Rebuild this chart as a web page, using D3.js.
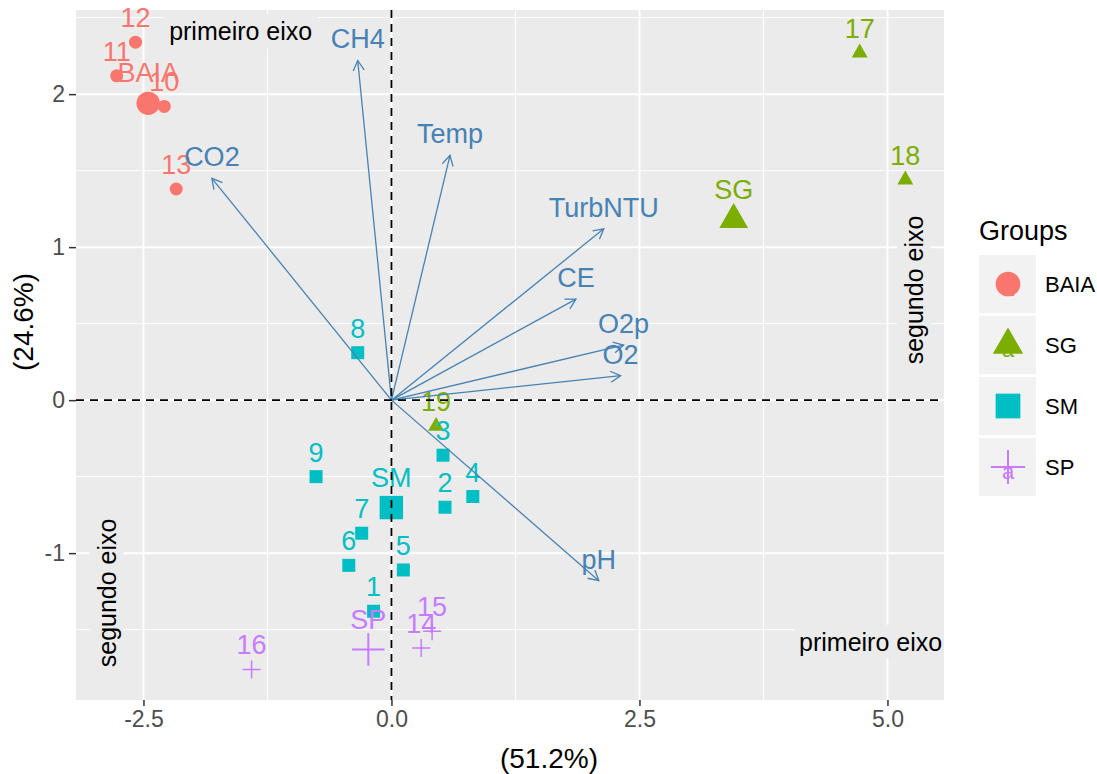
<!DOCTYPE html>
<html>
<head>
<meta charset="utf-8">
<script src="https://cdn.jsdelivr.net/npm/d3@7"></script>
<style>
    body { margin: 0; background: #ffffff; }
    text { font-family: 'Liberation Sans', Arial, sans-serif; }
</style>
</head>
<body>
<div id="chart"></div>
<script>
// Groups and colors
var groups = ['BAIA', 'SG', 'SM', 'SP'];
var groupColors = ['#F8766D', '#7CAE00', '#00BFC4', '#C77CFF'];

// Individuals (scores on dim 1 / dim 2)
var indNames = ['1', '2', '3', '4', '5', '6', '7', '8', '9', '10', '11', '12', '13', '14', '15', '16', '17', '18', '19'];
var indGroups = ['SM', 'SM', 'SM', 'SM', 'SM', 'SM', 'SM', 'SM', 'SM', 'BAIA', 'BAIA', 'BAIA', 'BAIA', 'SP', 'SP', 'SP', 'SG', 'SG', 'SG'];
var indDim1 = [-0.18, 0.54, 0.52, 0.82, 0.12, -0.43, -0.3, -0.34, -0.76, -2.29, -2.77, -2.58, -2.17, 0.3, 0.41, -1.41, 4.72, 5.18, 0.45];
var indDim2 = [-1.38, -0.7, -0.36, -0.63, -1.11, -1.08, -0.87, 0.31, -0.5, 1.92, 2.12, 2.34, 1.38, -1.62, -1.51, -1.76, 2.27, 1.44, -0.17];

// Variables (arrow tips)
var varNames = ['CH4', 'Temp', 'CO2', 'TurbNTU', 'CE', 'O2p', 'O2', 'pH'];
var varDim1 = [-0.34, 0.59, -1.81, 2.14, 1.86, 2.34, 2.31, 2.09];
var varDim2 = [2.22, 1.6, 1.45, 1.12, 0.66, 0.36, 0.16, -1.18];

// Axis ticks
var xTicks = [-2.5, 0, 2.5, 5];
var yTicks = [-1, 0, 1, 2];
var xMinor = [-1.25, 1.25, 3.75];
var yMinor = [-1.5, -0.5, 0.5, 1.5, 2.5];
var xTitle = '(51.2%)';
var yTitle = '(24.6%)';

// Annotations
var noteTexts = ['primeiro eixo', 'primeiro eixo', 'segundo eixo', 'segundo eixo'];
var noteDim1 = [-1.52, 4.83, 5.27, -2.87];
var noteDim2 = [2.41, -1.58, 0.72, -1.26];
var noteAngles = [0, 0, -90, -90];

// Margins
var margin = { top: 10, right: 153, bottom: 74, left: 76 },
    width = 1097 - margin.left - margin.right,
    height = 774 - margin.top - margin.bottom;

var arrowColor = '#4682B4';
var color = d3.scaleOrdinal().domain(groups).range(groupColors);

var x = d3.scaleLinear().domain([-3.18, 5.57]).range([0, width]);
var y = d3.scaleLinear().domain([-1.96, 2.55]).range([height, 0]);

// Shapes: circle, triangle, square, plus
function shapePath(group, k) {
    if (group === 'BAIA') {
        var r = 6.5 * k;
        return 'M' + (-r) + ',0A' + r + ',' + r + ' 0 1,0 ' + r + ',0A' + r + ',' + r + ' 0 1,0 ' + (-r) + ',0Z';
    }
    if (group === 'SG') {
        var a = 16 * k;
        return 'M0,' + (-a / Math.sqrt(3)) + 'L' + (a / 2) + ',' + (a / (2 * Math.sqrt(3))) +
            'L' + (-a / 2) + ',' + (a / (2 * Math.sqrt(3))) + 'Z';
    }
    if (group === 'SM') {
        var s = 6.5 * k;
        return 'M' + (-s) + ',' + (-s) + 'H' + s + 'V' + s + 'H' + (-s) + 'Z';
    }
    var h = 9 * k;
    return 'M' + (-h) + ',0H' + h + 'M0,' + (-h) + 'V' + h;
}
function drawShape(sel, k, sw) {
    sel.attr('d', function (d) { return shapePath(d.group, k); })
        .attr('fill', function (d) { return d.group === 'SP' ? 'none' : color(d.group); })
        .attr('stroke', function (d) { return d.group === 'SP' ? color(d.group) : 'none'; })
        .attr('stroke-width', sw);
}

var individuals = indNames.map(function (n, i) {
    return { name: n, group: indGroups[i], d1: indDim1[i], d2: indDim2[i] };
});
var centroids = groups.map(function (g) {
    var members = individuals.filter(function (d) { return d.group === g; });
    return {
        name: g, group: g,
        d1: d3.mean(members, function (d) { return d.d1; }),
        d2: d3.mean(members, function (d) { return d.d2; })
    };
});
var variables = varNames.map(function (n, i) {
    return { name: n, d1: varDim1[i], d2: varDim2[i] };
});

var svg = d3.select('#chart')
    .append('svg')
    .attr('width', width + margin.left + margin.right)
    .attr('height', height + margin.top + margin.bottom);

svg.append('defs').append('clipPath').attr('id', 'panel-clip')
    .append('rect').attr('width', width).attr('height', height);

svg.select('defs').append('marker')
    .attr('id', 'arrowhead')
    .attr('viewBox', '-12 -8 14 16')
    .attr('markerWidth', 14)
    .attr('markerHeight', 16)
    .attr('markerUnits', 'userSpaceOnUse')
    .attr('refX', 0)
    .attr('refY', 0)
    .attr('orient', 'auto')
    .append('path')
    .attr('d', 'M-10,-5.5L0,0L-10,5.5')
    .attr('fill', 'none')
    .attr('stroke', arrowColor)
    .attr('stroke-width', 1.3);

var chart = svg.append('g')
    .attr('transform', 'translate(' + margin.left + ',' + margin.top + ')');

// Panel background and grid
chart.append('rect').attr('width', width).attr('height', height).attr('fill', '#EBEBEB');

var grid = chart.append('g');
grid.selectAll('.xminor').data(xMinor).enter().append('line')
    .attr('x1', x).attr('x2', x).attr('y1', 0).attr('y2', height)
    .attr('stroke', '#ffffff').attr('stroke-width', 1);
grid.selectAll('.yminor').data(yMinor).enter().append('line')
    .attr('y1', y).attr('y2', y).attr('x1', 0).attr('x2', width)
    .attr('stroke', '#ffffff').attr('stroke-width', 1);
grid.selectAll('.xmajor').data(xTicks).enter().append('line')
    .attr('x1', x).attr('x2', x).attr('y1', 0).attr('y2', height)
    .attr('stroke', '#ffffff').attr('stroke-width', 2);
grid.selectAll('.ymajor').data(yTicks).enter().append('line')
    .attr('y1', y).attr('y2', y).attr('x1', 0).attr('x2', width)
    .attr('stroke', '#ffffff').attr('stroke-width', 2);

// Annotations (label boxes hide the grid)
var notes = chart.append('g').attr('clip-path', 'url(#panel-clip)');
noteTexts.forEach(function (t, i) {
    var g = notes.append('g')
        .attr('transform', 'translate(' + x(noteDim1[i]) + ',' + y(noteDim2[i]) + ') rotate(' + noteAngles[i] + ')');
    var box = g.append('rect');
    var txt = g.append('text')
        .attr('text-anchor', 'middle')
        .attr('dy', '0.35em')
        .attr('font-size', 25)
        .attr('fill', '#000000')
        .text(t);
    var bb = txt.node().getBBox();
    box.attr('x', bb.x - 5).attr('y', bb.y - 3)
        .attr('width', bb.width + 10).attr('height', bb.height + 6)
        .attr('fill', '#EBEBEB');
});

// Individuals
var ind = chart.append('g');
ind.selectAll('path').data(individuals).enter().append('path')
    .attr('transform', function (d) { return 'translate(' + x(d.d1) + ',' + y(d.d2) + ')'; })
    .call(drawShape, 1, 1.5);
ind.selectAll('text').data(individuals).enter().append('text')
    .attr('x', function (d) { return x(d.d1); })
    .attr('y', function (d) { return y(d.d2) - 15; })
    .attr('text-anchor', 'middle')
    .attr('font-size', 27)
    .attr('fill', function (d) { return color(d.group); })
    .text(function (d) { return d.name; });

// Variable arrows
var vars = chart.append('g');
vars.selectAll('line').data(variables).enter().append('line')
    .attr('x1', x(0)).attr('y1', y(0))
    .attr('x2', function (d) { return x(d.d1); })
    .attr('y2', function (d) { return y(d.d2); })
    .attr('stroke', arrowColor)
    .attr('stroke-width', 1.3)
    .attr('marker-end', 'url(#arrowhead)');
vars.selectAll('text').data(variables).enter().append('text')
    .attr('x', function (d) { return x(d.d1); })
    .attr('y', function (d) { return y(d.d2) - 12; })
    .attr('text-anchor', 'middle')
    .attr('font-size', 27)
    .attr('fill', arrowColor)
    .text(function (d) { return d.name; });

// Group centroids
var cen = chart.append('g');
cen.selectAll('path').data(centroids).enter().append('path')
    .attr('transform', function (d) { return 'translate(' + x(d.d1) + ',' + y(d.d2) + ')'; })
    .call(drawShape, 1.8, 2);
cen.selectAll('text').data(centroids).enter().append('text')
    .attr('x', function (d) { return x(d.d1); })
    .attr('y', function (d) { return y(d.d2) - 21; })
    .attr('text-anchor', 'middle')
    .attr('font-size', 27)
    .attr('fill', function (d) { return color(d.group); })
    .text(function (d) { return d.name; });

// Zero lines
chart.append('line')
    .attr('x1', 0).attr('x2', width).attr('y1', y(0)).attr('y2', y(0))
    .attr('stroke', '#000000').attr('stroke-width', 1.8).attr('stroke-dasharray', '8,6');
chart.append('line')
    .attr('x1', x(0)).attr('x2', x(0)).attr('y1', 0).attr('y2', height)
    .attr('stroke', '#000000').attr('stroke-width', 1.8).attr('stroke-dasharray', '8,6');

// Plain hyphen for negative tick labels, as in R
function hyphen(f) {
    return function (d) { return f(d).replace('\u2212', '-'); };
}

// X Axis
var xAxis = d3.axisBottom(x).tickValues(xTicks).tickFormat(hyphen(d3.format('.1f'))).tickSize(6).tickPadding(5);
var gx = chart.append('g')
    .attr('transform', 'translate(0,' + height + ')')
    .call(xAxis);
// Y Axis
var yAxis = d3.axisLeft(y).tickValues(yTicks).tickFormat(hyphen(d3.format('d'))).tickSize(7).tickPadding(4);
var gy = chart.append('g').call(yAxis);

[gx, gy].forEach(function (g) {
    g.select('.domain').remove();
    g.selectAll('.tick line').attr('stroke', '#333333').attr('stroke-width', 1.5);
    g.selectAll('.tick text')
        .attr('font-size', 23)
        .attr('fill', '#4D4D4D')
        .style('font-family', "'Liberation Sans', Arial, sans-serif");
});

// Axis titles
svg.append('text')
    .attr('x', 549)
    .attr('y', 768)
    .attr('text-anchor', 'middle')
    .attr('font-size', 28)
    .attr('fill', '#000000')
    .text(xTitle);
svg.append('text')
    .attr('transform', 'translate(33,322) rotate(-90)')
    .attr('text-anchor', 'middle')
    .attr('font-size', 28)
    .attr('fill', '#000000')
    .text(yTitle);

// Legend
var legend = svg.append('g').attr('transform', 'translate(979,230)');
legend.append('text')
    .attr('x', 0).attr('y', 10)
    .attr('font-size', 27)
    .attr('fill', '#000000')
    .text('Groups');
var keys = legend.selectAll('.key').data(groups.map(function (g) { return { group: g }; }))
    .enter().append('g')
    .attr('transform', function (d, i) { return 'translate(0,' + (25 + i * 61) + ')'; });
keys.append('rect').attr('width', 57).attr('height', 58).attr('fill', '#F2F2F2');
keys.append('text')
    .attr('x', 29).attr('y', 41)
    .attr('text-anchor', 'middle')
    .attr('font-size', 22)
    .attr('fill', function (d) { return color(d.group); })
    .text('a');
keys.append('path')
    .attr('transform', 'translate(29,29)')
    .call(drawShape, 1.9, 2);
keys.append('text')
    .attr('x', 66).attr('y', 37)
    .attr('font-size', 22)
    .attr('fill', '#000000')
    .text(function (d) { return d.group; });
</script>
</body>
</html>
